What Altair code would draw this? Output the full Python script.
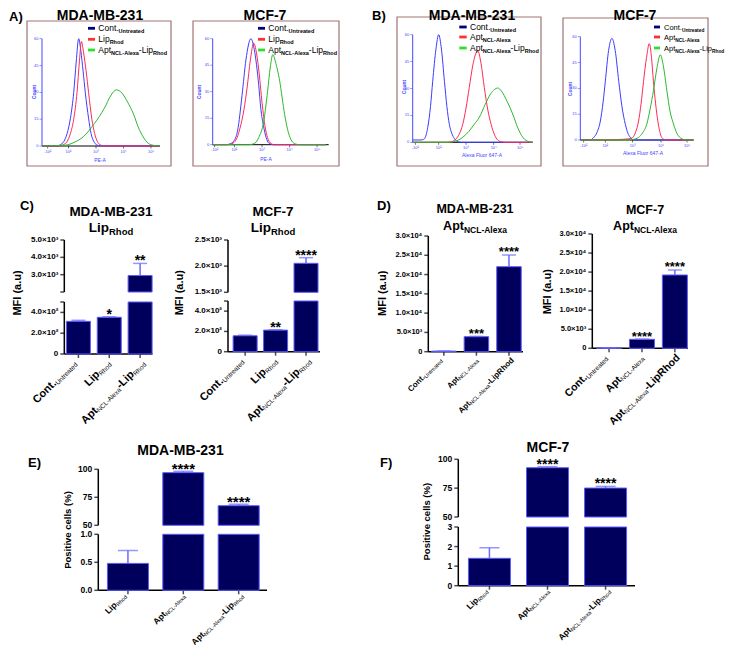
import altair as alt
import pandas as pd

OFF = 8
W, H = 718, 642
FONT = "Liberation Sans"

NAVY = "#00005c"
BAR_EDGE = "#5b5bff"
ERR_C = "#6a6aff"
BORDER = "#a07474"
BLUE_L, RED_L, GREEN_L = "#3c3cff", "#ff2a55", "#2cb82c"
SW_NAVY, SW_RED, SW_GREEN = "#00007a", "#ff3030", "#2ee02e"
AX_BLUE = "#4646ff"

# ---------------- data: flow cytometry histograms (x = decade position, y = count) -------------
A1_CONT_X = [1.05, 1.6, 1.7, 1.83, 1.95, 2.07, 2.19, 2.28, 2.37, 2.45, 2.53, 2.61, 2.73, 2.82, 2.92, 3.02, 3.15, 5.3]
A1_CONT_Y = [0, 0, 0.7, 2.5, 7, 15.5, 30, 47, 60, 53, 42, 30, 15.5, 7, 2.5, 0.7, 0, 0]
A1_LIP_X = [1.05, 1.7, 1.82, 1.95, 2.07, 2.19, 2.31, 2.4, 2.47, 2.55, 2.64, 2.73, 2.85, 2.95, 3.05, 3.15, 3.3, 5.3]
A1_LIP_Y = [0, 0, 0.8, 2.5, 7, 15, 30, 48, 58.5, 52, 42, 30, 15, 7, 2.5, 0.7, 0, 0]
A1_APTLIP_X = [1.05, 1.9, 2.2, 2.54, 2.94, 3.3, 3.55, 3.74, 3.95, 4.15, 4.36, 4.55, 4.72, 4.9, 5.08, 5.3]
A1_APTLIP_Y = [0, 0.5, 2, 5.2, 12.5, 21, 28.5, 31.4, 29.5, 24.5, 18, 10, 5, 1.5, 0.4, 0]

A2_CONT_X = [1.2, 1.7, 1.85, 2.0, 2.12, 2.28, 2.42, 2.6, 2.72, 2.88, 2.96, 3.05, 3.15, 3.24, 3.4, 5.3]
A2_CONT_Y = [0, 0, 0.5, 2.5, 8, 28, 48, 60, 54, 34, 20, 11, 4, 1, 0, 0]
A2_LIP_X = [1.2, 1.8, 1.95, 2.1, 2.2, 2.35, 2.46, 2.58, 2.7, 2.8, 2.9, 3.0, 3.12, 3.2, 3.3, 3.45, 5.3]
A2_LIP_Y = [0, 0, 0.8, 4, 9, 20, 32, 48, 57.5, 52, 40, 24, 9.4, 4, 1, 0, 0]
A2_APTLIP_X = [1.2, 2.5, 2.7, 2.88, 3.06, 3.2, 3.3, 3.39, 3.5, 3.66, 3.75, 3.84, 3.95, 4.08, 4.2, 4.35, 5.3]
A2_APTLIP_Y = [0, 0, 0.5, 4, 13, 30, 44, 51, 46, 34, 24, 15, 7, 2, 0.5, 0, 0]

B1_CONT_X = [1.05, 1.35, 1.42, 1.48, 1.6, 1.7, 1.78, 1.9, 2.0, 2.1, 2.21, 2.3, 2.39, 2.48, 2.58, 2.7, 2.85, 5.45]
B1_CONT_Y = [1.3, 1.3, 1.5, 2, 8.4, 20, 34, 52, 60, 52, 34, 20, 10, 5, 2, 0.3, 0, 0]
B1_APT_X = [1.05, 2.3, 2.5, 2.63, 2.75, 2.88, 3.0, 3.12, 3.25, 3.43, 3.55, 3.67, 3.8, 3.92, 4.05, 4.16, 4.3, 4.45, 5.45]
B1_APT_Y = [0, 0, 0.5, 1.8, 4.5, 10, 19, 30.6, 43, 51, 44, 30.6, 18, 10, 4, 1.3, 0.3, 0, 0]
B1_APTLIP_X = [1.05, 2.4, 2.6, 2.88, 3.1, 3.3, 3.49, 3.7, 3.9, 4.05, 4.16, 4.3, 4.5, 4.71, 4.9, 5.08, 5.2, 5.33, 5.45]
B1_APTLIP_Y = [0, 0, 0.5, 2.8, 6, 10, 14, 21, 27, 29.5, 30.3, 28.5, 23, 15.8, 8, 2.8, 1, 0.3, 0]

B2_CONT_X = [1.1, 1.45, 1.58, 1.7, 1.82, 1.92, 2.0, 2.12, 2.24, 2.36, 2.49, 2.6, 2.73, 2.82, 2.91, 3.05, 5.2]
B2_CONT_Y = [0, 0, 1.5, 4.5, 11, 22, 34, 52, 59, 52, 34, 20, 9, 4, 1.5, 0, 0]
B2_APT_X = [1.1, 2.0, 2.5, 2.8, 3.0, 3.1, 3.21, 3.3, 3.39, 3.5, 3.6, 3.68, 3.75, 3.83, 3.91, 3.98, 4.05, 4.15, 4.3, 5.2]
B2_APT_Y = [0, 0, 0.3, 0.6, 1.5, 4.5, 11, 21, 34, 48, 56, 48, 34, 21, 11, 5, 1.5, 0.3, 0, 0]
B2_APTLIP_X = [1.1, 2.8, 3.0, 3.21, 3.35, 3.51, 3.63, 3.75, 3.88, 4.0, 4.1, 4.24, 4.35, 4.48, 4.6, 4.73, 4.85, 5.0, 5.2]
B2_APTLIP_Y = [0, 0, 0.3, 1.5, 4, 9.3, 18, 28.6, 42, 49.5, 44, 28.6, 17, 9.3, 4, 1.2, 0.3, 0, 0]

HIST_Y_TICKS = [0, 15, 30, 45, 60]
HIST_Y_LABELS = ["0", "15", "30", "45", "60"]
HIST_X_LABELS = ["-10²", "10²", "10³", "10⁴", "10⁵"]

# ---------------- data: bar charts -------------
C_MDA_VAL = [314, 353, 2950]
C_MDA_ERR = [324, 358, 3650]
C_MDA_SIG = ["", "*", "**"]
C_MCF_VAL = [157, 213, 2054]
C_MCF_ERR = [163, 217, 2162]
C_MCF_SIG = ["", "**", "****"]
D_MDA_VAL = [150, 3890, 22040]
D_MDA_ERR = [200, 3980, 25070]
D_MDA_SIG = ["", "***", "****"]
D_MCF_VAL = [100, 2360, 19240]
D_MCF_ERR = [130, 2420, 20550]
D_MCF_SIG = ["", "****", "****"]
E_VAL = [0.48, 97.0, 67.5]
E_ERR = [0.71, 98.2, 68.8]
E_SIG = ["", "****", "****"]
F_VAL = [1.40, 92.7, 75.1]
F_ERR = [1.94, 93.6, 76.5]
F_SIG = ["", "****", "****"]

C_LOW_TICKS = [0, 200, 400, 500]
C_LOW_LABELS = ["0", "2.0×10²", "4.0×10²", ""]
C_MDA_TOP_TICKS = [2000, 3000, 4000, 5000]
C_MDA_TOP_LABELS = ["", "3.0×10³", "4.0×10³", "5.0×10³"]
C_MCF_TOP_TICKS = [1500, 2000, 2500]
C_MCF_TOP_LABELS = ["1.5×10³", "2.0×10³", "2.5×10³"]
D_TICKS = [0, 5000, 10000, 15000, 20000, 25000, 30000]
D_LABELS = ["0", "5.0×10³", "1.0×10⁴", "1.5×10⁴", "2.0×10⁴", "2.5×10⁴", "3.0×10⁴"]
E_LOW_TICKS = [0, 0.5, 1.0]
E_LOW_LABELS = ["0.0", "0.5", "1.0"]
F_LOW_TICKS = [0, 1, 2, 3]
F_LOW_LABELS = ["0", "1", "2", "3"]
PCT_TOP_TICKS = [50, 75, 100]
PCT_TOP_LABELS = ["50", "75", "100"]

CAT_C = [[("Cont.", "m"), ("Untreated", "s")],
         [("Lip", "m"), ("Rhod", "s")],
         [("Apt", "m"), ("NCL-Alexa", "s"), ("-Lip", "m"), ("Rhod", "s")]]
CAT_D = [[("Cont.", "m"), ("Untreated", "s")],
         [("Apt", "m"), ("NCL-Alexa", "s")],
         [("Apt", "m"), ("NCL-Alexa", "s"), ("-LipRhod", "m")]]
CAT_EF = [[("Lip", "m"), ("Rhod", "s")],
          [("Apt", "m"), ("NCL-Alexa", "s")],
          [("Apt", "m"), ("NCL-Alexa", "s"), ("-Lip", "m"), ("Rhod", "s")]]
LEG_A = [[("Cont.", "m"), ("Untreated", "s")],
         [("Lip", "m"), ("Rhod", "s")],
         [("Apt", "m"), ("NCL-Alexa", "s"), ("-Lip", "m"), ("Rhod", "s")]]
LEG_B = [[("Cont.", "m"), ("Untreated", "s")],
         [("Apt", "m"), ("NCL-Alexa", "s")],
         [("Apt", "m"), ("NCL-Alexa", "s"), ("-Lip", "m"), ("Rhod", "s")]]

REG = {' ': 278, '-': 333, '.': 278, '(': 333, ')': 333, '%': 889, '*': 389, '×': 584,
       '²': 333, '³': 333, '⁴': 333, 'A': 667, 'B': 667, 'C': 722, 'D': 722, 'E': 667,
       'F': 611, 'I': 278, 'L': 556, 'M': 833, 'N': 722, 'P': 667, 'R': 722, 'U': 722,
       'a': 556, 'c': 500, 'd': 556, 'e': 556, 'h': 556, 'i': 222, 'l': 222, 'n': 556,
       'o': 556, 'p': 556, 'r': 333, 's': 500, 't': 278, 'u': 556, 'v': 500, 'x': 500}
BLD = {' ': 278, '-': 333, '.': 278, '(': 333, ')': 333, '%': 889, '*': 389, '×': 584,
       '²': 333, '³': 333, '⁴': 333, 'A': 722, 'B': 722, 'C': 722, 'D': 722, 'E': 667,
       'F': 611, 'I': 278, 'L': 611, 'M': 833, 'N': 722, 'P': 667, 'R': 722, 'U': 722,
       'a': 556, 'c': 556, 'd': 611, 'e': 556, 'h': 611, 'i': 278, 'l': 278, 'n': 611,
       'o': 611, 'p': 611, 'r': 389, 's': 556, 't': 333, 'u': 611, 'v': 556, 'x': 556}


def tw(s, size, bold):
    t = BLD if bold else REG
    return sum(t.get(ch, 556) for ch in s) * size / 1000.0


ONE = pd.DataFrame({"k": [0]})


def txt(s, x, y, size, bold=False, color="black", align="left", baseline="alphabetic",
        angle=0, dx=0, dy=0):
    mk = dict(text=s, fontSize=size, fontWeight="bold" if bold else "normal", font=FONT,
              color=color, align=align, baseline=baseline)
    if angle:
        mk["angle"] = angle
    if dx:
        mk["dx"] = dx
    if dy:
        mk["dy"] = dy
    return alt.Chart(ONE).mark_text(**mk).encode(x=alt.value(x - OFF), y=alt.value(y - OFF))


def rich(parts, x, y, anchor, style, angle=0, color="black"):
    segs = [(s, *style[r]) for s, r in parts]
    ws = [tw(s, sz, b) for s, sz, b, sh in segs]
    tot = sum(ws)
    cum = {"left": 0.0, "center": -tot / 2, "right": -tot}[anchor]
    out = []
    for (s, sz, b, sh), w in zip(segs, ws):
        if angle:
            out.append(txt(s, x, y, sz, b, color, angle=angle, dx=cum, dy=sh))
        else:
            out.append(txt(s, x + cum, y + sh, sz, b, color))
        cum += w
    return out


def rect(x0, y0, x1, y1, **kw):
    return alt.Chart(ONE).mark_rect(**kw).encode(
        x=alt.value(x0 - OFF), x2=alt.value(x1 - OFF), y=alt.value(y0 - OFF), y2=alt.value(y1 - OFF))


def axis_parts(xs, ys, x0, x1, y0, y1, ytv, ytl, xtv, xtl, sty):
    """Axis lines, ticks and labels drawn as marks through the panel's own scales."""
    out = []
    xd = alt.XDatum(x0, type="quantitative", scale=xs, axis=None)
    yd = alt.YDatum(y0, type="quantitative", scale=ys, axis=None)
    out.append(alt.Chart(ONE).mark_rule(color=sty["ycol"], strokeWidth=sty["lw"]).encode(
        x=xd, y=yd, y2=alt.Y2Datum(y1)))
    tdf = pd.DataFrame({"t": ytv, "l": ytl})
    out.append(alt.Chart(tdf).mark_tick(orient="horizontal", size=sty["ts"], thickness=sty["tw"],
                                        xOffset=-sty["ts"] / 2, color=sty["ycol"]).encode(
        x=xd, y=alt.Y("t:Q", scale=ys, axis=None)))
    ldf = tdf[tdf["l"] != ""]
    out.append(alt.Chart(ldf).mark_text(align="right", baseline="middle", dx=-(sty["ts"] + sty["pad"]),
                                        fontSize=sty["fs"], fontWeight=sty["fw"], font=FONT,
                                        color=sty["lcol"]).encode(
        x=xd, y=alt.Y("t:Q", scale=ys, axis=None), text="l:N"))
    if xtv is not None:
        out.append(alt.Chart(ONE).mark_rule(color="black", strokeWidth=sty["lw"]).encode(
            x=xd, x2=alt.X2Datum(x1), y=yd))
        xdf = pd.DataFrame({"t": xtv, "l": xtl})
        out.append(alt.Chart(xdf).mark_tick(orient="vertical", size=sty["ts"], thickness=sty["tw"],
                                            yOffset=sty["ts"] / 2, color="black").encode(
            x=alt.X("t:Q", scale=xs, axis=None), y=yd))
        xl = xdf[xdf["l"] != ""]
        if len(xl):
            out.append(alt.Chart(xl).mark_text(align="center", baseline="top", dy=sty["ts"] + 1,
                                               fontSize=sty["fs"], font=FONT, color=sty["lcol"]).encode(
                x=alt.X("t:Q", scale=xs, axis=None), y=yd, text="l:N"))
    return out


# ---------------- histogram panels -------------
HSTY = dict(ycol=AX_BLUE, lw=1, ts=2.5, tw=0.8, pad=1, fs=4, fw="normal", lcol=AX_BLUE)


def hist_panel(curves, g, title, xtitle, legend_parts, sw_cols, leg_style):
    out = []
    out.append(rect(*g["box"], fillOpacity=0, stroke=BORDER, strokeWidth=1.2))
    dmin = 2 + (g["ax"] - g["p2"]) / g["dec"]
    dmax = 2 + (g["xend"] - g["p2"]) / g["dec"]
    tvals = [round(2 + (p - g["p2"]) / g["dec"], 3) for p in g["ticks"]]
    xs = alt.Scale(domain=[dmin, dmax], range=[g["ax"] - OFF, g["xend"] - OFF],
                   nice=False, zero=False, clamp=True)
    ys = alt.Scale(domain=[0, 60], range=[g["yb"] - OFF, g["yt"] - OFF], nice=False, zero=False)
    parts = axis_parts(xs, ys, dmin, dmax, 0, 60, HIST_Y_TICKS, HIST_Y_LABELS, tvals, HIST_X_LABELS, HSTY)
    for cx, cy, col in curves:
        df = pd.DataFrame({"d": cx, "c": cy})
        parts.append(alt.Chart(df).mark_line(color=col, strokeWidth=1, interpolate="monotone").encode(
            x=alt.X("d:Q", scale=xs, axis=None), y=alt.Y("c:Q", scale=ys, axis=None)))
    out.append(alt.layer(*parts))
    out.append(txt(title, g["title"][0], g["title"][1], 14, True, align="center"))
    out.append(txt("Count", g["count"][0], g["count"][1], 5, True, AX_BLUE, align="center",
                   baseline="middle", angle=270))
    out.append(txt(xtitle, g["xt"][0], g["xt"][1], 5, False, AX_BLUE, align="center"))
    for lp, col, ry in zip(legend_parts, sw_cols, g["rows"]):
        out.append(rect(g["sw"][0], ry - 1.4, g["sw"][1], ry + 1.4, color=col))
        out += rich(lp, g["tx"], ry + 3, "left", leg_style)
    return out


GA1 = dict(ax=42, xend=160, yb=146, yt=38.7, p2=68.5, dec=27.5, ticks=[47.7, 68.5, 96, 123.5, 151],
           box=(27, 21, 171, 166), sw=(88, 95), tx=98.3, rows=[28.3, 39.3, 50], count=(34, 92),
           xt=(100, 162), title=(100, 19.5))
GA2 = dict(ax=212.7, xend=328.7, yb=144.7, yt=38.7, p2=234.3, dec=27.7,
           ticks=[214.7, 234.3, 262, 289.7, 317], box=(193, 21, 339, 166), sw=(258, 265), tx=268.3,
           rows=[28.3, 39.3, 50], count=(199, 92), xt=(266, 161), title=(265, 19.5))
GB1 = dict(ax=412.7, xend=532.7, yb=142.3, yt=34.7, p2=438.7, dec=27.3,
           ticks=[415.3, 438.7, 466, 493.7, 520], box=(397, 17, 541, 166), sw=(459.3, 466.7), tx=470,
           rows=[27, 37, 48], count=(404, 87), xt=(482, 157), title=(472, 20))
GB2 = dict(ax=580.3, xend=693.7, yb=140, yt=36.7, p2=605.3, dec=27.5,
           ticks=[583.7, 605.3, 632.7, 661, 687], box=(563, 18, 708, 166), sw=(654, 660), tx=664,
           rows=[27, 37, 48], count=(570, 89), xt=(643, 155), title=(635, 20))

LEG_STY = {"m": (8.5, False, 0), "s": (5.5, True, 2)}
LEG_STY_SMALL = {"m": (7.5, False, 0), "s": (4.8, True, 1.8)}

layers = []
SW3 = [SW_NAVY, SW_RED, SW_GREEN]
layers += hist_panel([(A1_CONT_X, A1_CONT_Y, BLUE_L), (A1_LIP_X, A1_LIP_Y, RED_L),
                      (A1_APTLIP_X, A1_APTLIP_Y, GREEN_L)], GA1, "MDA-MB-231", "PE-A", LEG_A, SW3, LEG_STY)
layers += hist_panel([(A2_CONT_X, A2_CONT_Y, BLUE_L), (A2_LIP_X, A2_LIP_Y, RED_L),
                      (A2_APTLIP_X, A2_APTLIP_Y, GREEN_L)], GA2, "MCF-7", "PE-A", LEG_A, SW3, LEG_STY)
layers += hist_panel([(B1_CONT_X, B1_CONT_Y, BLUE_L), (B1_APT_X, B1_APT_Y, RED_L),
                      (B1_APTLIP_X, B1_APTLIP_Y, GREEN_L)], GB1, "MDA-MB-231", "Alexa Fluor 647-A",
                     LEG_B, SW3, LEG_STY)
layers += hist_panel([(B2_CONT_X, B2_CONT_Y, BLUE_L), (B2_APT_X, B2_APT_Y, RED_L),
                      (B2_APTLIP_X, B2_APTLIP_Y, GREEN_L)], GB2, "MCF-7", "Alexa Fluor 647-A",
                     LEG_B, SW3, LEG_STY_SMALL)


# ---------------- bar panels -------------
def bar_panel(vals, errs, sig, g, segs, tick_fs, star_fs, cats, lab_style, lab_dy):
    n = len(vals)
    df = pd.DataFrame({"i": list(range(n)), "v": vals, "e": errs, "s": sig})
    xlo = (g["ax"] - g["c0"]) / g["step"]
    xhi = (g["xend"] - g["c0"]) / g["step"]
    xs = alt.Scale(domain=[xlo, xhi], range=[g["ax"] - OFF, g["xend"] - OFF], nice=False, zero=False)
    bsty = dict(ycol="black", lw=1.5, ts=4, tw=1.5, pad=2, fs=tick_fs, fw="bold", lcol="black")
    out = []
    for k, (lo, hi, pb, pt, tv, tl) in enumerate(segs):
        ys = alt.Scale(domain=[lo, hi], range=[pb - OFF, pt - OFF], nice=False, zero=False, clamp=True)
        if k == 0:
            parts = axis_parts(xs, ys, xlo, xhi, lo, hi, tv, tl, list(range(n)), [""] * n, bsty)
        else:
            parts = axis_parts(xs, ys, xlo, xhi, lo, hi, tv, tl, None, None, bsty)
        bdf = df if k == 0 else df[df["v"] > lo]
        parts.append(alt.Chart(bdf).mark_bar(size=g["bw"], fill=NAVY, stroke=BAR_EDGE, strokeWidth=1).encode(
            x=alt.X("i:Q", scale=xs, axis=None), y=alt.Y("v:Q", scale=ys, axis=None),
            y2=alt.Y2Datum(lo)))
        rdf = df[(df["e"] > lo) & (df["v"] < hi)]
        if len(rdf):
            parts.append(alt.Chart(rdf).mark_rule(color=ERR_C, strokeWidth=1.5).encode(
                x=alt.X("i:Q", scale=xs, axis=None), y=alt.Y("v:Q", scale=ys, axis=None), y2="e:Q"))
        cdf = df[(df["e"] >= lo) & (df["e"] <= hi)]
        if len(cdf):
            parts.append(alt.Chart(cdf).mark_tick(orient="horizontal", size=g["cap"], thickness=1.5,
                                                  color=ERR_C).encode(
                x=alt.X("i:Q", scale=xs, axis=None), y=alt.Y("e:Q", scale=ys, axis=None)))
        sdf = cdf[cdf["s"] != ""]
        if len(sdf):
            parts.append(alt.Chart(sdf).mark_text(fontSize=star_fs, fontWeight="bold", font=FONT,
                                                  color="black", align="center", baseline="alphabetic",
                                                  dy=0.575 * star_fs - 6).encode(
                x=alt.X("i:Q", scale=xs, axis=None), y=alt.Y("e:Q", scale=ys, axis=None), text="s:N"))
        out.append(alt.layer(*parts))
    axis_y = segs[0][2]
    for i, cat in enumerate(cats):
        cx = g["c0"] + i * g["step"]
        out += rich(cat, cx + 2, axis_y + lab_dy, "right", lab_style, angle=315)
    return out


STYLE_C = {"m": (11, True, 0), "s": (6.5, False, 1.5)}
STYLE_D1 = {"m": (8, True, 0), "s": (5.5, False, 1.2)}
STYLE_D2 = {"m": (10.5, True, 0), "s": (6.5, False, 1.5)}
STYLE_EF = {"m": (8.5, True, 0), "s": (5.5, False, 1.4)}

GC1 = dict(ax=59.3, xend=157.5, c0=75, step=34.35, bw=24, cap=14)
GC2 = dict(ax=223, xend=325, c0=242, step=33.75, bw=24, cap=14)
GD1 = dict(ax=423.3, xend=528, c0=440.5, step=36, bw=24.5, cap=14)
GD2 = dict(ax=587.3, xend=693, c0=605.8, step=36.35, bw=25, cap=14)
GE = dict(ax=93.3, xend=272, c0=124.7, step=58.65, bw=41, cap=20)
GF = dict(ax=453.3, xend=640, c0=486.2, step=61.35, bw=42, cap=20)

layers += bar_panel(C_MDA_VAL, C_MDA_ERR, C_MDA_SIG, GC1,
                    [(0, 500, 354, 302, C_LOW_TICKS, C_LOW_LABELS),
                     (2000, 5000, 292, 240, C_MDA_TOP_TICKS, C_MDA_TOP_LABELS)],
                    8, 14, CAT_C, STYLE_C, 10)
layers += bar_panel(C_MCF_VAL, C_MCF_ERR, C_MCF_SIG, GC2,
                    [(0, 500, 351.7, 301, C_LOW_TICKS, C_LOW_LABELS),
                     (1500, 2500, 292.3, 240, C_MCF_TOP_TICKS, C_MCF_TOP_LABELS)],
                    8, 14, CAT_C, STYLE_C, 10)
layers += bar_panel(D_MDA_VAL, D_MDA_ERR, D_MDA_SIG, GD1,
                    [(0, 30000, 351.7, 236, D_TICKS, D_LABELS)], 7.5, 13, CAT_D, STYLE_D1, 9)
layers += bar_panel(D_MCF_VAL, D_MCF_ERR, D_MCF_SIG, GD2,
                    [(0, 30000, 348.3, 234, D_TICKS, D_LABELS)], 7.5, 13, CAT_D, STYLE_D2, 10)
layers += bar_panel(E_VAL, E_ERR, E_SIG, GE,
                    [(0, 1, 590.3, 534.3, E_LOW_TICKS, E_LOW_LABELS),
                     (50, 100, 525.3, 469.3, PCT_TOP_TICKS, PCT_TOP_LABELS)],
                    8.5, 15, CAT_EF, STYLE_EF, 6)
layers += bar_panel(F_VAL, F_ERR, F_SIG, GF,
                    [(0, 3, 585.7, 527, F_LOW_TICKS, F_LOW_LABELS),
                     (50, 100, 517, 459.3, PCT_TOP_TICKS, PCT_TOP_LABELS)],
                    8.5, 14, CAT_EF, STYLE_EF, 6)

# ---------------- titles & panel letters -------------
T_LIP = [("Lip", "m"), ("Rhod", "s")]
T_APT = [("Apt", "m"), ("NCL-Alexa", "s")]
layers.append(txt("MDA-MB-231", 111, 216, 13.5, True, align="center"))
layers += rich(T_LIP, 111, 232, "center", {"m": (13.5, True, 0), "s": (9.5, True, 3)})
layers.append(txt("MCF-7", 273, 216, 13.5, True, align="center"))
layers += rich(T_LIP, 273, 232, "center", {"m": (13.5, True, 0), "s": (9.5, True, 3)})
layers.append(txt("MDA-MB-231", 475, 213, 12.5, True, align="center"))
layers += rich(T_APT, 475, 230, "center", {"m": (12.5, True, 0), "s": (8.5, True, 3)})
layers.append(txt("MCF-7", 645, 213.5, 12.5, True, align="center"))
layers += rich(T_APT, 645, 230, "center", {"m": (12.5, True, 0), "s": (8.5, True, 3)})
layers.append(txt("MDA-MB-231", 180.5, 455, 14, True, align="center"))
layers.append(txt("MCF-7", 548, 452, 14, True, align="center"))

for s, x, y in [("MFI (a.u)", 18.3, 293), ("MFI (a.u)", 180, 292.7),
                ("MFI (a.u)", 383.3, 293.3), ("MFI (a.u)", 548.3, 291.7)]:
    layers.append(txt(s, x, y, 11, True, align="center", baseline="middle", angle=270))
for s, x, y in [("Positive cells (%)", 68.3, 530), ("Positive cells (%)", 426.7, 521.7)]:
    layers.append(txt(s, x, y, 9.5, True, align="center", baseline="middle", angle=270))

for s, x, y in [("A)", 9, 21), ("B)", 372, 20), ("C)", 20, 210), ("D)", 377, 210),
                ("E)", 28, 467), ("F)", 380, 467)]:
    layers.append(txt(s, x, y, 13, True))

chart = alt.layer(*layers).resolve_scale(x="independent", y="independent").properties(
    width=W, height=H, autosize=alt.AutoSizeParams(type="none"), padding=0
).configure_view(stroke=None)

chart.save("out.html", embed_options={"renderer": "svg", "actions": False})
